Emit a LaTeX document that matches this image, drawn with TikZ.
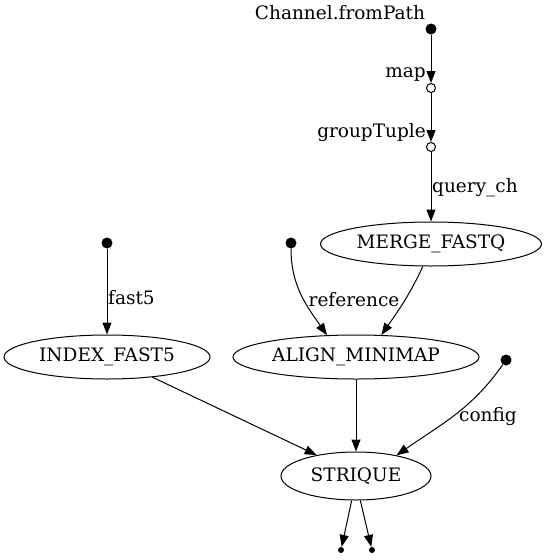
\documentclass[tikz,border=0pt]{standalone}
\usepackage{fontspec}
\setmainfont{DejaVu Serif}
\usetikzlibrary{shapes.geometric,arrows.meta}
\begin{document}
\begin{tikzpicture}[x=1pt,y=-1pt,
  every node/.style={font=\fontsize{18.5}{21}\selectfont},
  proc/.style={draw,ellipse,inner sep=0pt,line width=1pt},
  src/.style={circle,fill=black,inner sep=0pt,minimum size=11pt},
  op/.style={circle,draw,fill=white,inner sep=0pt,minimum size=9pt,line width=1pt},
  outp/.style={circle,fill=black,inner sep=0pt,minimum size=6pt},
  lbl/.style={inner sep=0pt},
  edge/.style={draw,line width=1pt,-{Triangle[length=12pt,width=9pt]}}]
\useasboundingbox (0,0) rectangle (548,560);
% nodes
\node[src] (ch) at (431,29) {};
\node[lbl] (chl) at (340,13) {Channel.fromPath};
\node[op] (map) at (431,88) {};
\node[lbl,anchor=east] (mapl) at (426,74) {map};
\node[op] (gt) at (431,147) {};
\node[lbl,anchor=east] (gtl) at (426,133) {groupTuple};
\node[proc,minimum width=221pt,minimum height=44pt] (merge) at (431,244) {MERGE\_FASTQ};
\node[src] (f5) at (107,243) {};
\node[src] (ref) at (291,243) {};
\node[proc,minimum width=206pt,minimum height=44pt] (idx) at (107,357) {INDEX\_FAST5};
\node[proc,minimum width=246pt,minimum height=44pt] (align) at (356,357) {ALIGN\_MINIMAP};
\node[src] (cfg) at (506,360) {};
\node[proc,minimum width=150pt,minimum height=48pt] (str) at (356,476) {STRIQUE};
\node[outp] (o1) at (341,550) {};
\node[outp] (o2) at (372,550) {};
% edges
\draw[edge] (ch) -- (map);
\draw[edge] (map) -- (gt);
\draw[edge] (gt) -- (merge.north);
\node[lbl,anchor=west] (qcl) at (432,188) {query\_ch};
\draw[edge] (f5) -- (idx.north);
\node[lbl,anchor=west] (f5l) at (108,298) {fast5};
\draw[edge] (ref) to[out=-90,in=125] (align.143);
\node[lbl] (refl) at (354,300) {reference};
\draw[edge] (merge.-110) to[out=-115,in=55] (align.41);
\draw[edge] (idx.-24) -- (str.152);
\draw[edge] (align.south) -- (str.north);
\draw[edge] (cfg) to[out=-125,in=35] (str.27);
\node[lbl] (cfgl) at (488,417) {config};
\draw[edge] (str.-100) -- (o1);
\draw[edge] (str.-80) -- (o2);
\end{tikzpicture}
\end{document}
